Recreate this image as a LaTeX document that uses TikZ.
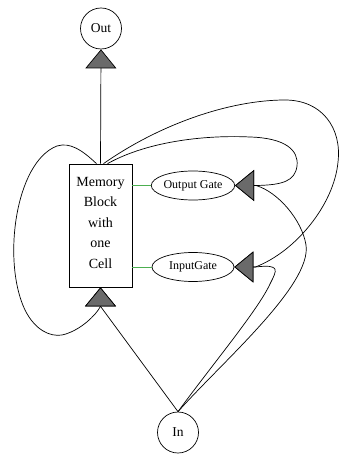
\documentclass[tikz,border=0pt]{standalone}
\usepackage{fontspec}
\setmainfont{Liberation Serif}
\usetikzlibrary{arrows.meta,shapes.geometric,calc}
\definecolor{tipgray}{HTML}{6A6A6A}
\definecolor{gateline}{HTML}{4CAF50}
\begin{document}
\begin{tikzpicture}[x=1pt,y=-1pt,
  edge/.style={draw=black,line width=0.7pt,line join=round,-{Triangle[length=19pt,width=31pt,fill=tipgray]}},
  gedge/.style={draw=gateline,line width=1pt},
  circ/.style={draw,circle,minimum size=41pt,inner sep=0pt,line width=0.7pt,font=\fontsize{13.5}{16}\selectfont},
  memstyle/.style={draw,rectangle,minimum width=63pt,minimum height=123pt,inner sep=0pt,line width=0.7pt,align=center,font=\fontsize{14}{20.5}\selectfont},
  gate/.style={draw,ellipse,minimum width=82pt,minimum height=29pt,inner sep=0pt,line width=0.7pt,font=\fontsize{12}{14}\selectfont}
]
\useasboundingbox (0,0) rectangle (340,454);
\node[circ] (out) at (101,28.5) {Out};
\node[memstyle] (mem) at (100.5,225.5) {Memory\\Block\\with\\one\\Cell\strut};
\node[gate] (og) at (193,185.5) {Output Gate};
\node[gate] (ig) at (193,267) {InputGate};
\node[circ] (in) at (178,432.5) {In};
\coordinate (ogb) at ($(og.east)+(21,0)$);
\coordinate (igb) at ($(ig.east)+(21,0)$);
\coordinate (memb) at ($(mem.south)+(0,19)$);
\coordinate (mtl) at ($(mem.north)+(-4,0)$);
\coordinate (mtr) at ($(mem.north)+(7,0)$);
\coordinate (mtm) at ($(mem.north)+(3,0)$);
% green gate links
\draw[gedge] (mem.east |- og.west) -- (og.west);
\draw[gedge] (mem.east |- ig.west) -- (ig.west);
% memory -> out
\draw[edge] (mem.north) -- (out.south);
% in -> memory
\draw[edge] (in.north) -- (memb) -- (mem.south);
% self loop
\draw[edge] (mtl) .. controls (82,150) and (70,142) .. (57,146)
  .. controls (15,162) and (2,262) .. (25,310)
  .. controls (35,330) and (50,337) .. (62,335)
  .. controls (80,331) and (96,315) .. (memb) -- (mem.south);
% memory -> output gate (inner loop)
\draw[edge] (mtr) .. controls (150,140) and (210,135) .. (250,137)
  .. controls (285,138) and (299,150) .. (297,166)
  .. controls (295,181) and (283,185) .. (ogb) -- (og.east);
% memory -> input gate (outer loop)
\draw[edge] (mtm) .. controls (160,124) and (230,100) .. (285,100)
  .. controls (322,100) and (342,128) .. (338,162)
  .. controls (334,205) and (295,252) .. (igb) -- (ig.east);
% in -> output gate
\draw[edge] (in.north) .. controls (222,362) and (312,285) .. (306,245)
  .. controls (302,220) and (278,192) .. (ogb) -- (og.east);
% in -> input gate
\draw[edge] (in.north) .. controls (212,365) and (258,310) .. (270,284)
  .. controls (277,270) and (281,264) .. (igb) -- (ig.east);
\end{tikzpicture}
\end{document}
